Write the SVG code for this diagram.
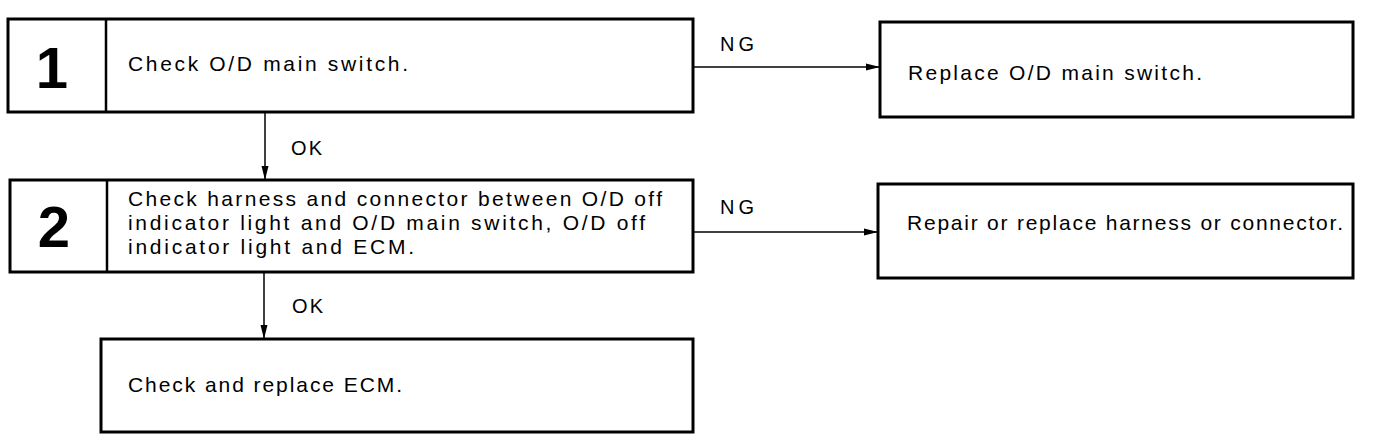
<svg xmlns="http://www.w3.org/2000/svg" width="1376" height="442" viewBox="0 0 1376 442">
<style>
.box{fill:#fff;stroke:#000;stroke-width:3}
.div{stroke:#000;stroke-width:2.5}
.t{font-family:"Liberation Sans",Arial,sans-serif;font-size:21px;fill:#000}
.num{font-family:"Liberation Sans",Arial,sans-serif;font-size:58px;font-weight:bold;fill:#000;text-anchor:middle}
.lbl{font-family:"Liberation Sans",Arial,sans-serif;font-size:20px;fill:#000}
.c{stroke:#000;stroke-width:1.5;fill:none}
</style>
<defs>
<marker id="ah" markerUnits="userSpaceOnUse" markerWidth="16" markerHeight="10" refX="14" refY="5" orient="auto">
<path d="M0,1.5 L14,5 L0,8.5 Z" fill="#000"/>
</marker>
</defs>
<rect width="1376" height="442" fill="#fff"/>
<g id="connectors">
<line class="c" x1="693" y1="67" x2="880" y2="67" marker-end="url(#ah)"/>
<line class="c" x1="693" y1="232" x2="878" y2="232" marker-end="url(#ah)"/>
<line class="c" x1="265" y1="112" x2="265" y2="180" marker-end="url(#ah)"/>
<line class="c" x1="264" y1="272" x2="264" y2="339" marker-end="url(#ah)"/>
<text class="lbl" x="720" y="51" textLength="34" lengthAdjust="spacing">NG</text>
<text class="lbl" x="720" y="214" textLength="34" lengthAdjust="spacing">NG</text>
<text class="lbl" x="291" y="155" textLength="31" lengthAdjust="spacing">OK</text>
<text class="lbl" x="292" y="313" textLength="31" lengthAdjust="spacing">OK</text>
</g>
<g id="step1">
<rect class="box" x="8" y="19" width="685" height="93"/>
<line class="div" x1="106" y1="19" x2="106" y2="112"/>
<text class="num" x="52" y="88">1</text>
<text class="t" x="128" y="71" textLength="280" lengthAdjust="spacing">Check O/D main switch.</text>
</g>
<g id="replace-switch">
<rect class="box" x="880" y="22" width="473" height="95"/>
<text class="t" x="908" y="80" textLength="294" lengthAdjust="spacing">Replace O/D main switch.</text>
</g>
<g id="step2">
<rect class="box" x="10" y="180" width="683" height="92"/>
<line class="div" x1="107" y1="180" x2="107" y2="272"/>
<text class="num" x="54" y="247">2</text>
<text class="t" x="128" y="206" textLength="534" lengthAdjust="spacing">Check harness and connector between O/D off</text>
<text class="t" x="128" y="230" textLength="517" lengthAdjust="spacing">indicator light and O/D main switch, O/D off</text>
<text class="t" x="128" y="254" textLength="286" lengthAdjust="spacing">indicator light and ECM.</text>
</g>
<g id="repair-harness">
<rect class="box" x="878" y="184" width="475" height="94"/>
<text class="t" x="907" y="230" textLength="436" lengthAdjust="spacing">Repair or replace harness or connector.</text>
</g>
<g id="replace-ecm">
<rect class="box" x="101" y="339" width="592" height="93"/>
<text class="t" x="128" y="392" textLength="274" lengthAdjust="spacing">Check and replace ECM.</text>
</g>
</svg>
